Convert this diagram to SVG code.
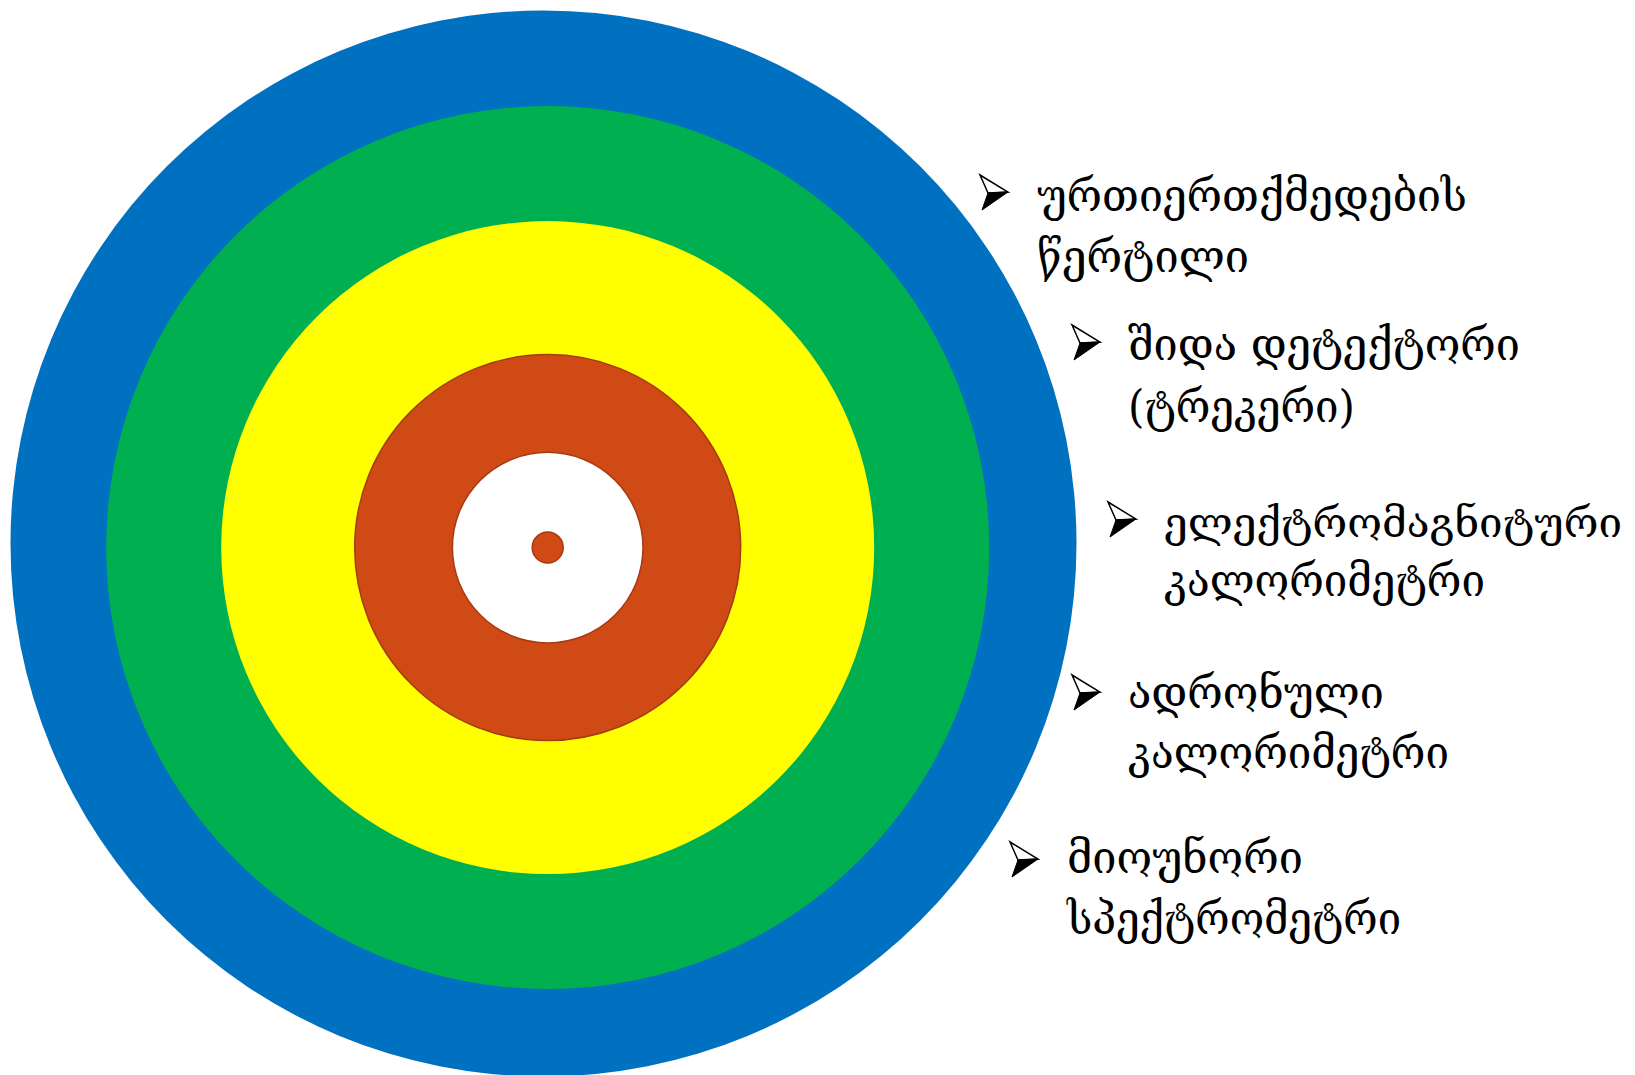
<svg xmlns="http://www.w3.org/2000/svg" width="1635" height="1075" viewBox="0 0 1635 1075">
<defs>
<style>
.lbl{font-family:"DejaVu Serif","DejaVu Sans",serif;font-size:44px;fill:#000}
.lbl-tight{font-size:41px}
</style>
<g id="bullet">
<polygon points="0,0 28,17 8,18" fill="#fff" stroke="#000" stroke-width="1.5" stroke-linejoin="miter"/>
<polygon points="8,18 28,17 2,35" fill="#000" stroke="#000" stroke-width="1"/>
</g>
</defs>
<rect width="1635" height="1075" fill="#fff"/>
<g id="rings">
<circle id="ring-muon" cx="543.5" cy="543.5" r="533" fill="#0070C0"/>
<circle id="ring-hcal" cx="547.7" cy="547.6" r="441.5" fill="#00B050"/>
<circle id="ring-ecal" cx="547.7" cy="547.6" r="326.5" fill="#FFFF00"/>
<circle id="ring-tracker" cx="547.7" cy="547.6" r="193" fill="#D04A16" stroke="#A63A12" stroke-width="1.5"/>
<circle id="ring-beam" cx="547.7" cy="547.6" r="95.3" fill="#fff" stroke="#A63A12" stroke-width="1.5"/>
<circle id="ring-ip" cx="547.7" cy="547.6" r="15.5" fill="#D04A16" stroke="#A63A12" stroke-width="1.5"/>
</g>
<g id="labels">
<g id="label-1"><use href="#bullet" x="980" y="175"/><text class="lbl" x="1037" y="211" textLength="430" lengthAdjust="spacingAndGlyphs">ურთიერთქმედების</text><text class="lbl" x="1037" y="272" textLength="212" lengthAdjust="spacingAndGlyphs">წერტილი</text></g>
<g id="label-2"><use href="#bullet" x="1072" y="325"/><text class="lbl" x="1128" y="360" textLength="392" lengthAdjust="spacingAndGlyphs">შიდა დეტექტორი</text><text class="lbl" x="1128" y="422" textLength="227" lengthAdjust="spacingAndGlyphs">(ტრეკერი)</text></g>
<g id="label-3"><use href="#bullet" x="1108" y="502"/><text class="lbl lbl-tight" x="1164" y="537" textLength="458" lengthAdjust="spacingAndGlyphs">ელექტრომაგნიტური</text><text class="lbl" x="1164" y="596" textLength="321" lengthAdjust="spacingAndGlyphs">კალორიმეტრი</text></g>
<g id="label-4"><use href="#bullet" x="1072" y="675"/><text class="lbl" x="1128" y="708" textLength="256" lengthAdjust="spacingAndGlyphs">ადრონული</text><text class="lbl" x="1128" y="768" textLength="321" lengthAdjust="spacingAndGlyphs">კალორიმეტრი</text></g>
<g id="label-5"><use href="#bullet" x="1010" y="842"/><text class="lbl" x="1067" y="873" textLength="236" lengthAdjust="spacingAndGlyphs">მიოუნორი</text><text class="lbl" x="1067" y="934" textLength="334" lengthAdjust="spacingAndGlyphs">სპექტრომეტრი</text></g>
</g>
</svg>
